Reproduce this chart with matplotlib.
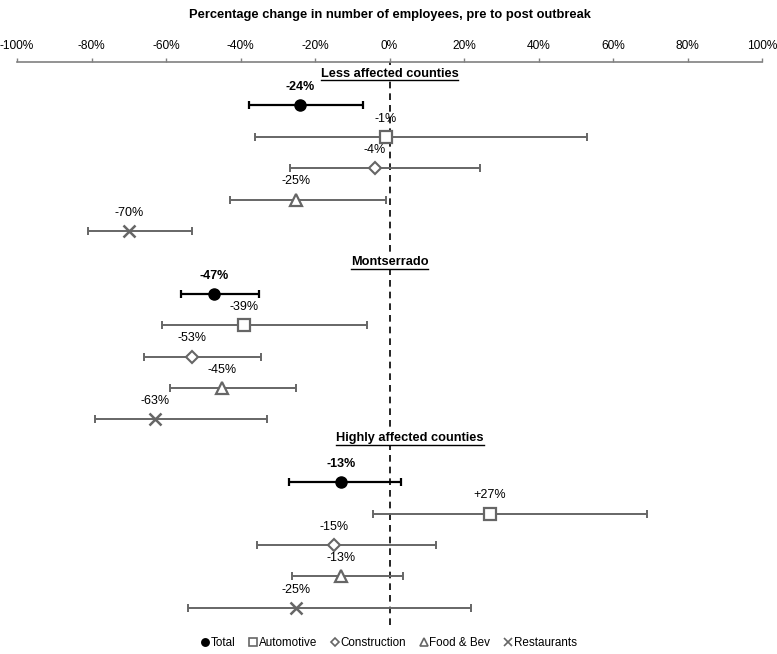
import matplotlib
matplotlib.use("Agg")
import matplotlib.pyplot as plt
from matplotlib.lines import Line2D

plt.rcParams["font.family"] = ["Liberation Sans", "DejaVu Sans"]

# ------------------------------------------------------------------
# Data (percent change, pre to post outbreak)
# ------------------------------------------------------------------
groups = ["Less affected counties", "Montserrado", "Highly affected counties"]
sectors = ["Total", "Automotive", "Construction", "Food & Bev", "Restaurants"]

less_est = [-24, -1, -4, -25, -70]
less_lo = [-37.6, -36.2, -26.6, -42.7, -81]
less_hi = [-7.0, 53, 24.4, -0.9, -53]

mont_est = [-47, -39, -53, -45, -63]
mont_lo = [-56, -61, -66, -59, -79]
mont_hi = [-35, -6, -34.6, -25, -33]

high_est = [-13, 27, -15, -13, -25]
high_lo = [-27, -4.3, -35.7, -26.3, -54]
high_hi = [3, 69, 12.6, 3.5, 22]

ticks = [-100, -80, -60, -40, -20, 0, 20, 40, 60, 80, 100]

# ------------------------------------------------------------------
# Styles
# ------------------------------------------------------------------
_BLACK = "#000000"
_GREY = "#666666"
_styles = {
    "Total":        dict(marker="o", mfc=_BLACK, mec=_BLACK, ms=8, color=_BLACK, lw=1.6),
    "Automotive":   dict(marker="s", mfc="white", mec=_GREY, ms=8.5, color=_GREY, lw=1.4, mew=1.6),
    "Construction": dict(marker="D", mfc="white", mec=_GREY, ms=6, color=_GREY, lw=1.4, mew=1.5),
    "Food & Bev":   dict(marker="^", mfc="white", mec=_GREY, ms=8.5, color=_GREY, lw=1.4, mew=1.6),
    "Restaurants":  dict(marker="x", mfc=_GREY, mec=_GREY, ms=8, color=_GREY, lw=1.4, mew=1.8),
}

W, H = 777, 654
fig = plt.figure(figsize=(W / 100, H / 100), dpi=100)
ax = fig.add_axes([17 / W, 1 - 625 / H, 745 / W, (625 - 62) / H])

group_data = [
    (less_est, less_lo, less_hi),
    (mont_est, mont_lo, mont_hi),
    (high_est, high_lo, high_hi),
]
header_pos = [(0, 0.0), (0, 6.0), (5.5, 11.6)]

headers = []
for g, (est, lo, hi) in enumerate(group_data):
    base = g * 6
    hx, hy = header_pos[g]
    t = ax.text(hx, hy, groups[g], ha="center", va="center",
                fontsize=9.2, fontweight="bold", zorder=6,
                bbox=dict(facecolor="white", edgecolor="none", pad=1))
    headers.append(t)
    for i, s in enumerate(sectors):
        y = base + 1 + i
        st = _styles[s]
        ax.errorbar([est[i]], [y], xerr=[[est[i] - lo[i]], [hi[i] - est[i]]],
                    fmt="none", ecolor=st["color"], elinewidth=st["lw"],
                    capsize=3, capthick=st["lw"], zorder=3)
        ax.plot([est[i]], [y], linestyle="none", marker=st["marker"],
                markerfacecolor=st["mfc"], markeredgecolor=st["mec"],
                markersize=st["ms"], markeredgewidth=st.get("mew", 1.0), zorder=5)
        lab = f"+{est[i]}%" if est[i] > 0 else f"{est[i]}%"
        ax.annotate(lab, (est[i], y), xytext=(0, 13), textcoords="offset points",
                    ha="center", va="center", fontsize=9,
                    fontweight="bold" if s == "Total" else "normal", zorder=6)

ax.axvline(0, color=_BLACK, lw=1.2, ls=(0, (4, 3)), zorder=1)

ax.set_xlim(-100, 100)
ax.set_ylim(17.55, -0.38)
ax.set_xticks(ticks)
ax.set_xticklabels([f"{v}%" for v in ticks], fontsize=8.6)
ax.xaxis.tick_top()
ax.tick_params(axis="x", direction="out", length=3, width=1, color="#808080", pad=4)
ax.set_yticks([])
for side in ["left", "right", "bottom"]:
    ax.spines[side].set_visible(False)
ax.spines["top"].set_color("#808080")
ax.spines["top"].set_linewidth(1.2)

fig.text(390 / W, 1 - 15 / H, "Percentage change in number of employees, pre to post outbreak",
         ha="center", va="center", fontsize=9.3, fontweight="bold")

# underline the group headers
fig.canvas.draw()
renderer = fig.canvas.get_renderer()
inv = ax.transData.inverted()
for t in headers:
    bb = t.get_window_extent(renderer)
    (x0, y0), (x1, _) = inv.transform([(bb.x0, bb.y0 - 0.5), (bb.x1, bb.y0 - 0.5)])
    ax.plot([x0, x1], [y0, y0], color=_BLACK, lw=1.0, zorder=7, clip_on=False)

handles = [
    Line2D([], [], linestyle="none", marker=_styles[s]["marker"],
           markerfacecolor=_styles[s]["mfc"], markeredgecolor=_styles[s]["mec"],
           markersize=_styles[s]["ms"] * 0.65, markeredgewidth=1.2)
    for s in sectors
]
fig.legend(handles, sectors, loc="center", bbox_to_anchor=(389 / W, 1 - 643 / H),
           ncol=5, frameon=False, fontsize=8.4, handlelength=0.6, handletextpad=0.2,
           columnspacing=1.2)

fig.savefig("out.png", dpi=100)
